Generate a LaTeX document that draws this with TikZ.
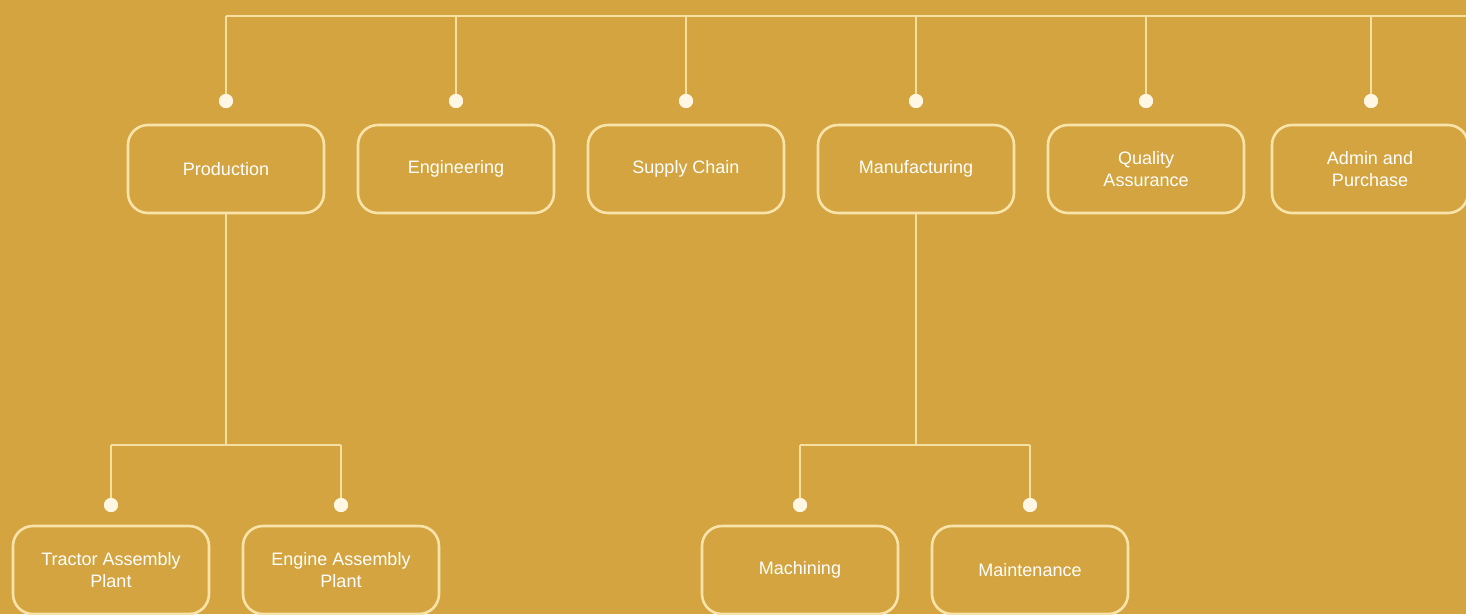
\documentclass[tikz,border=0pt]{standalone}
\usepackage{fontspec}
\setmainfont{Liberation Sans}
\definecolor{bg}{HTML}{D3A43F}
\definecolor{linec}{HTML}{F6DFA0}
\definecolor{boxc}{HTML}{F8E4AA}
\definecolor{dotc}{HTML}{FFF6E4}
\begin{document}
\begin{tikzpicture}[x=1pt,y=-1pt,
  box/.style={draw=boxc, line width=2.6pt, rounded corners=20pt, minimum width=196pt, minimum height=88pt,
    text=white, align=center, inner sep=2pt, font=\fontsize{18}{22}\selectfont},
  dot/.style={circle, fill=dotc, minimum size=14pt, inner sep=0pt},
  conn/.style={draw=linec, line width=2pt}]
\useasboundingbox[fill=bg] (0,0) rectangle (1466,614);
% top-level boxes
\node[box] (prod) at (226,169) {Production};
\node[box] (eng)  at (456,169) {Engineering};
\node[box] (sup)  at (686,169) {Supply Chain};
\node[box] (man)  at (916,169) {Manufacturing};
\node[box] (qa)   at (1146,169) {Quality\\Assurance};
\node[box] (adm)  at (1370,169) {Admin and\\Purchase};
% bottom boxes
\node[box] (trac) at (111,570) {Tractor Assembly\\Plant};
\node[box] (engp) at (341,570) {Engine Assembly\\Plant};
\node[box] (mach) at (800,570) {Machining};
\node[box] (mnt)  at (1030,570) {Maintenance};
% dots
\node[dot] (d1) at (226,101) {};
\node[dot] (d2) at (456,101) {};
\node[dot] (d3) at (686,101) {};
\node[dot] (d4) at (916,101) {};
\node[dot] (d5) at (1146,101) {};
\node[dot] (d6) at (1371,101) {};
\node[dot] (e1) at (111,505) {};
\node[dot] (e2) at (341,505) {};
\node[dot] (e3) at (800,505) {};
\node[dot] (e4) at (1030,505) {};
% bus coordinates
\coordinate (busR) at (1466,16);
\coordinate (pj) at (226,445);
\coordinate (mj) at (916,445);
\begin{scope}[on background layer/.style={}]
\draw[conn] (d1 |- busR) -- (busR);
\foreach \d in {d1,d2,d3,d4,d5,d6} \draw[conn] (\d.center) -- (\d |- busR);
\draw[conn] (prod.south) -- (pj);
\draw[conn] (e1 |- pj) -- (e2 |- pj);
\draw[conn] (e1.center) -- (e1 |- pj);
\draw[conn] (e2.center) -- (e2 |- pj);
\draw[conn] (man.south) -- (mj);
\draw[conn] (e3 |- mj) -- (e4 |- mj);
\draw[conn] (e3.center) -- (e3 |- mj);
\draw[conn] (e4.center) -- (e4 |- mj);
\end{scope}
\foreach \d in {d1,d2,d3,d4,d5,d6,e1,e2,e3,e4} \node[dot] at (\d) {};
\end{tikzpicture}
\end{document}
